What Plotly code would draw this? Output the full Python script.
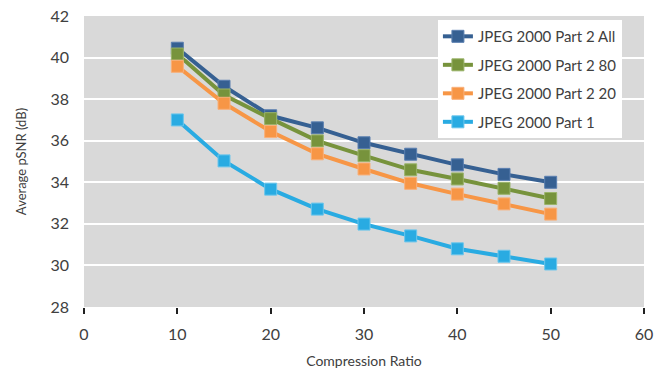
import plotly.graph_objects as go

ratios = [10, 15, 20, 25, 30, 35, 40, 45, 50]
part2_all = [40.45, 38.62, 37.2, 36.62, 35.9, 35.35, 34.84, 34.38, 34.0]
part2_80 = [40.17, 38.2, 37.06, 35.99, 35.28, 34.6, 34.16, 33.71, 33.22]
part2_20 = [39.58, 37.8, 36.44, 35.37, 34.64, 33.95, 33.43, 32.96, 32.47]
part1 = [37.0, 35.03, 33.67, 32.71, 31.99, 31.42, 30.8, 30.44, 30.07]

series = [
    ("JPEG 2000 Part 2 All", part2_all, "#366092", "#5a7fb0"),
    ("JPEG 2000 Part 2 80", part2_80, "#77933C", "#9ab46a"),
    ("JPEG 2000 Part 2 20", part2_20, "#F79646", "#f9b07a"),
    ("JPEG 2000 Part 1", part1, "#29ABE2", "#6cc6ec"),
]

fig = go.Figure()
for i, (name, vals, col, edge) in enumerate(series):
    fig.add_trace(go.Scatter(
        x=ratios, y=vals, name=name, mode="lines+markers", legendgroup=f"g{i}",
        line=dict(color=col, width=4),
        marker=dict(symbol="square", size=12, color=col, line=dict(color=edge, width=1)),
    ))

font = "Lato, 'Open Sans', sans-serif"
fig.update_layout(
    width=657, height=375,
    margin=dict(l=84, r=13, t=16, b=68),
    paper_bgcolor="white", plot_bgcolor="#D9D9D9",
    font=dict(family=font, color="#404040", size=14),
    showlegend=True,
    legend=dict(x=0.632, y=0.986, xanchor="left", yanchor="top",
                bgcolor="white", font=dict(size=15, color="#404040"),
                tracegroupgap=6, borderwidth=0),
)
fig.update_xaxes(range=[0, 60], dtick=10, tick0=0, showgrid=False, zeroline=False,
                 ticks="outside", ticklen=6, tickwidth=2, tickcolor="#202020",
                 ticklabelstandoff=7, automargin=False,
                 showline=False, tickfont=dict(size=16),
                 title=dict(text="Compression Ratio", font=dict(size=14), standoff=13))
fig.update_yaxes(range=[28, 42], dtick=2, tick0=28, showgrid=True, gridcolor="white",
                 gridwidth=2, zeroline=False, showline=False, ticks="",
                 ticklabelstandoff=14, automargin=False,
                 tickfont=dict(size=16),
                 title=dict(text="Average pSNR (dB)", font=dict(size=13), standoff=20))

fig.write_html("out.html")
